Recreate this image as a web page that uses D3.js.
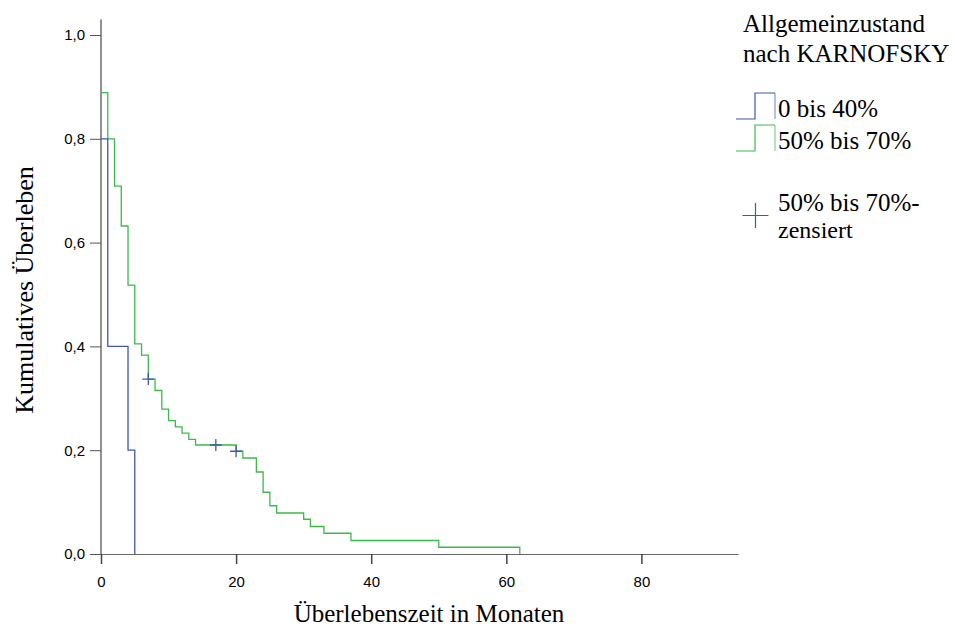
<!DOCTYPE html>
<html lang="de"><head><meta charset="utf-8">
<script src="https://cdn.jsdelivr.net/npm/d3@7"></script>
<style>
body { margin: 0; background: #fff; }
text { fill: #000; }
</style>
</head>
<body>
<script>
// Kaplan-Meier: Allgemeinzustand nach KARNOFSKY
var width = 955, height = 629;

var xTicks = [0, 20, 40, 60, 80];
var yTicks = [0, 0.2, 0.4, 0.6, 0.8, 1.0];

var groups = ["0 bis 40%", "50% bis 70%"];
var groupColors = ["#3e58ac", "#3db94a"];

var lowTimes = [0, 1, 4, 5];
var lowSurv = [0.8, 0.4, 0.2, 0.0];

var highTimes = [0, 1, 2, 3, 4, 5, 6, 7, 8, 9, 10, 11, 12, 13, 14, 20, 21, 23, 24, 25, 26, 30, 31, 33, 37, 50, 62];
var highSurv = [0.889, 0.800, 0.709, 0.632, 0.518, 0.405, 0.383, 0.337, 0.315, 0.279, 0.257, 0.245, 0.233, 0.221, 0.210,
                0.198, 0.185, 0.158, 0.119, 0.093, 0.079, 0.067, 0.053, 0.040, 0.026, 0.013, 0.000];

var censTimes = [7, 17, 20];
var censSurv = [0.337, 0.210, 0.198];

var sans = "Liberation Sans, Arial, sans-serif";
var serif = "Liberation Serif, Times New Roman, serif";

var svg = d3.select("body").append("svg")
    .attr("width", width)
    .attr("height", height);

var x = d3.scaleLinear().domain([0, 94.3]).range([101, 738]);
var y = d3.scaleLinear().domain([0, 1.03]).range([554, 554 - 1.03 * 519]);

// axes
var yAxis = svg.append("g")
    .attr("transform", "translate(" + x(0) + ",0)")
    .call(d3.axisLeft(y).tickValues(yTicks).tickSize(11).tickPadding(5)
        .tickFormat(d => d3.format(".1f")(d).replace(".", ",")));
yAxis.select(".domain").attr("stroke", "#222").attr("d", "M0," + y(1.03) + "V" + y(0));
yAxis.selectAll(".tick line").attr("stroke", "#555");
yAxis.selectAll("text").style("font-family", sans).style("font-size", "15px");

var xAxis = svg.append("g")
    .attr("transform", "translate(0," + y(0) + ")")
    .call(d3.axisBottom(x).tickValues(xTicks).tickSize(10).tickPadding(12).tickSizeOuter(0));
xAxis.select(".domain").attr("stroke", "#666");
xAxis.selectAll(".tick line").attr("stroke", "#444").attr("stroke-width", 1.5);
xAxis.selectAll("text").style("font-family", sans).style("font-size", "15px");

// curves
var step = d3.line()
    .x(d => x(d[0]))
    .y(d => y(d[1]))
    .curve(d3.curveStepAfter);

svg.append("path")
    .datum(d3.zip(highTimes, highSurv))
    .attr("d", step)
    .attr("fill", "none")
    .attr("stroke", groupColors[1])
    .attr("stroke-width", 1.3);

svg.append("path")
    .datum(d3.zip(lowTimes, lowSurv))
    .attr("d", step)
    .attr("fill", "none")
    .attr("stroke", groupColors[0])
    .attr("stroke-width", 1.3);

// censored marks
svg.selectAll(".cens")
    .data(d3.zip(censTimes, censSurv))
    .enter().append("path")
    .attr("class", "cens")
    .attr("d", d => "M" + (x(d[0]) - 6) + "," + y(d[1]) + "h12M" + x(d[0]) + "," + (y(d[1]) - 6) + "v12")
    .attr("stroke", groupColors[0])
    .attr("stroke-width", 1.3)
    .attr("fill", "none");

// axis titles
svg.append("text")
    .attr("x", 429).attr("y", 622)
    .attr("text-anchor", "middle")
    .style("font-family", serif)
    .style("font-size", "25px")
    .text("Überlebenszeit in Monaten");

svg.append("text")
    .attr("transform", "translate(33,290) rotate(-90)")
    .attr("text-anchor", "middle")
    .style("font-family", serif)
    .style("font-size", "26px")
    .text("Kumulatives Überleben");

// legend
var leg = svg.append("g").style("font-family", serif).style("font-size", "25px");
leg.append("text").attr("x", 743).attr("y", 32).text("Allgemeinzustand");
leg.append("text").attr("x", 743).attr("y", 62).text("nach KARNOFSKY");

groups.forEach(function(g, i) {
    var yb = 119 + i * 32;
    leg.append("path")
        .attr("d", "M736," + yb + "H755V" + (yb - 26) + "H775")
        .attr("fill", "none").attr("stroke", groupColors[i]).attr("stroke-width", 1.2);
    leg.append("path")
        .attr("d", "M775," + (yb - 26) + "V" + yb)
        .attr("fill", "none").attr("stroke", groupColors[i]).attr("stroke-opacity", 0.5).attr("stroke-width", 1.5);
    leg.append("text").attr("x", 778).attr("y", yb - 2).text(g);
});

leg.append("path")
    .attr("d", "M742.5,215.5H768.5M755.5,203V228")
    .attr("stroke", groupColors[0]).attr("stroke-width", 1.2).attr("fill", "none");
leg.append("text").attr("x", 778).attr("y", 211).text("50% bis 70%-");
leg.append("text").attr("x", 778).attr("y", 238).style("font-size", "24px").text("zensiert");
</script>
</body></html>
